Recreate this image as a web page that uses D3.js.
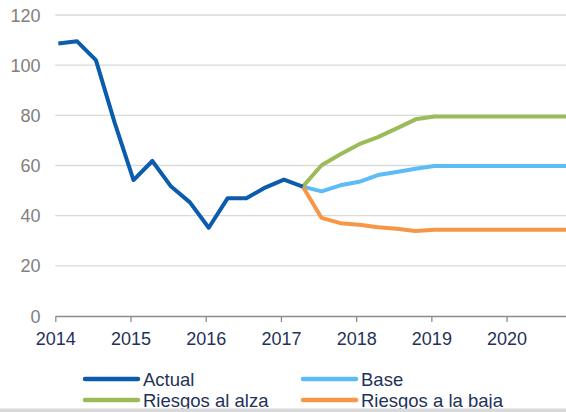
<!DOCTYPE html>
<html>
<head>
<meta charset="utf-8">
<script src="https://cdn.jsdelivr.net/npm/d3@7"></script>
<style>
  html, body { margin: 0; padding: 0; background: #fff; }
  svg { display: block; font-family: 'Liberation Sans', Arial, sans-serif; }
</style>
</head>
<body>
<div id="chart"></div>
<script>
// Data (fractional years, quarterly)
const actualDates = [2014.04, 2014.29, 2014.54, 2014.79, 2015.04, 2015.29, 2015.54, 2015.79,
  2016.04, 2016.29, 2016.54, 2016.79, 2017.04, 2017.29];
const actualValues = [108.6, 109.5, 102, 77, 54.2, 61.8, 51.6, 45.3, 35.2, 46.9, 46.9, 51.2, 54.4, 51.6];

const forecastDates = [2017.29, 2017.54, 2017.79, 2018.04, 2018.29, 2018.54, 2018.79, 2019.04,
  2019.29, 2019.54, 2019.79, 2020.04, 2020.29, 2020.54, 2020.79];
const baseValues = [51.6, 49.7, 52.1, 53.5, 56.2, 57.4, 58.7, 59.8, 59.8, 59.8, 59.8, 59.8, 59.8, 59.8, 59.8];
const upsideValues = [51.6, 60.1, 64.5, 68.5, 71.3, 74.8, 78.4, 79.5, 79.5, 79.5, 79.5, 79.5, 79.5, 79.5, 79.5];
const downsideValues = [51.6, 39.1, 37.0, 36.4, 35.4, 34.8, 33.9, 34.4, 34.4, 34.4, 34.4, 34.4, 34.4, 34.4, 34.4];

const yearTicks = [2014, 2015, 2016, 2017, 2018, 2019, 2020];
const yTicks = [0, 20, 40, 60, 80, 100, 120];

const seriesNames = ['Actual', 'Base', 'Riesgos al alza', 'Riesgos a la baja'];
const colors = ['#0b5cad', '#5cbcf8', '#9bbb59', '#f79646'];

const W = 566, H = 412;
const plot = {left: 55.3, right: 566, top: 15, bottom: 316};

const svg = d3.select('#chart').append('svg')
  .attr('width', W).attr('height', H);

const x = d3.scaleLinear().domain([2014, 2020.79]).range([plot.left, plot.right]);
const y = d3.scaleLinear().domain([0, 120]).range([plot.bottom, plot.top]);

// gridlines
svg.append('g')
  .selectAll('line')
  .data(yTicks.filter(d => d > 0))
  .enter().append('line')
  .attr('x1', plot.left).attr('x2', plot.right)
  .attr('y1', d => y(d)).attr('y2', d => y(d))
  .attr('stroke', '#d9d9d9').attr('stroke-width', 1.3);

// y labels
svg.append('g')
  .selectAll('text')
  .data(yTicks)
  .enter().append('text')
  .attr('x', 40.5).attr('y', d => y(d) + 6.5)
  .attr('text-anchor', 'end')
  .attr('font-size', 18)
  .attr('fill', '#808080')
  .text(d => d);

// x axis
const xAxis = svg.append('g')
  .attr('transform', `translate(0,${plot.bottom})`)
  .call(d3.axisBottom(x).tickValues(yearTicks).tickFormat(d3.format('d')).tickSize(6).tickSizeOuter(0));
xAxis.select('.domain').attr('stroke', '#8c8c8c').attr('stroke-width', 1.3);
xAxis.selectAll('.tick line').attr('stroke', '#8c8c8c').attr('stroke-width', 1.3);
xAxis.selectAll('.tick text')
  .attr('y', 16)
  .attr('font-size', 18)
  .attr('font-family', "'Liberation Sans', Arial, sans-serif")
  .attr('fill', '#1f3258');

// lines
const line = d3.line().x(d => x(d[0])).y(d => y(d[1]));
const series = [
  d3.zip(actualDates, actualValues),
  d3.zip(forecastDates, baseValues),
  d3.zip(forecastDates, upsideValues),
  d3.zip(forecastDates, downsideValues)
];

svg.append('defs').append('clipPath').attr('id', 'clip')
  .append('rect').attr('x', 0).attr('y', 0).attr('width', plot.right).attr('height', H);

const drawOrder = [1, 2, 3, 0];
svg.append('g').attr('clip-path', 'url(#clip)')
  .selectAll('path')
  .data(drawOrder)
  .enter().append('path')
  .attr('d', i => line(series[i]))
  .attr('fill', 'none')
  .attr('stroke', i => colors[i])
  .attr('stroke-width', 4)
  .attr('stroke-linejoin', 'round');

// legend
const legendPos = [[85, 379], [303, 379], [85, 400], [303, 400]];
const legend = svg.append('g')
  .selectAll('g')
  .data(seriesNames)
  .enter().append('g')
  .attr('transform', (d, i) => `translate(${legendPos[i][0]},${legendPos[i][1]})`);
legend.append('line')
  .attr('x1', 0).attr('x2', 53)
  .attr('stroke', (d, i) => colors[i])
  .attr('stroke-width', 4.5)
  .attr('stroke-linecap', 'round');
legend.append('text')
  .attr('x', 58).attr('y', 7)
  .attr('font-size', 18.5)
  .attr('fill', '#1f3258')
  .text(d => d);

// bottom strip
svg.append('rect')
  .attr('x', 0).attr('y', 408.5).attr('width', W).attr('height', H - 408.5)
  .attr('fill', '#d9d9d9');
</script>
</body>
</html>
